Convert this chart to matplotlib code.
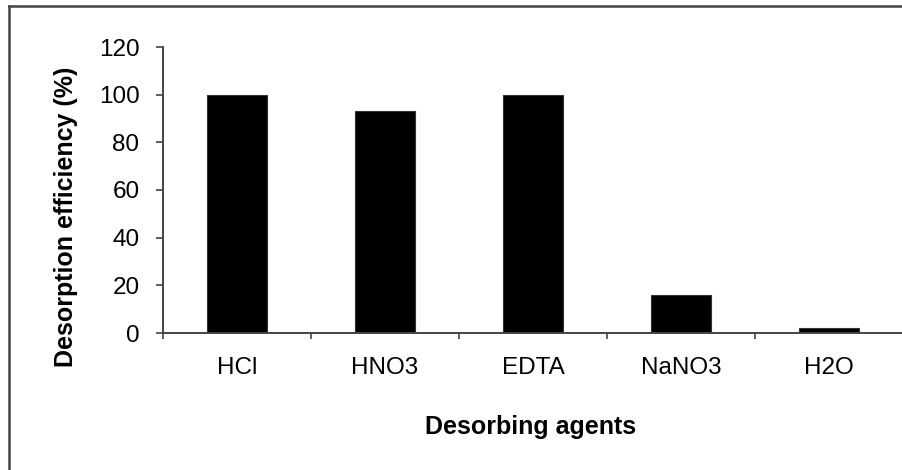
import numpy as np
from matplotlib import pyplot as plt
from matplotlib.lines import Line2D

plt.rcParams['font.family'] = ['Liberation Sans', 'DejaVu Sans']

# data
agents = ['HCl', 'HNO3', 'EDTA', 'NaNO3', 'H2O']
efficiency = [100, 93, 100, 16, 2]
y_ticks = [0, 20, 40, 60, 80, 100, 120]

W, H = 902, 470
fig = plt.figure(figsize=(W / 100, H / 100), dpi=100)
ax = fig.add_axes([163 / W, 1 - 333 / H, 740 / W, 286 / H])

x = np.arange(len(agents))
ax.bar(x, efficiency, width=0.41, color='black', edgecolor='#333333', linewidth=0.8)

ax.set_xlim(-0.5, len(agents) - 0.5)
ax.set_ylim(0, 120)
ax.set_yticks(y_ticks)

# category labels at centres, tick marks between categories
ax.set_xticks(x)
ax.set_xticklabels(agents)
ax.set_xticks(np.arange(len(agents)) - 0.5, minor=True)
ax.tick_params(axis='x', which='major', length=0, pad=17, labelsize=17.5, colors='black')
ax.tick_params(axis='x', which='minor', length=4, width=1.2, color='#444444', direction='out')
ax.tick_params(axis='y', length=5, width=1.2, color='#444444', pad=12, labelsize=17.5)

for s in ['top', 'right']:
    ax.spines[s].set_visible(False)
for s in ['left', 'bottom']:
    ax.spines[s].set_color('#444444')
    ax.spines[s].set_linewidth(1.4)
ax.spines['bottom'].set_clip_on(False)

ax.set_ylabel('Desorption efficiency (%)', fontsize=18, fontweight='bold')
ax.yaxis.set_label_coords(-0.115, 0.405)
ax.set_xlabel('Desorbing agents', fontsize=18, fontweight='bold')
ax.xaxis.set_label_coords(0.497, -0.285)

# outer frame (left and top edges only)
fx = 9 / W
fy = 1 - 6 / H
fig.add_artist(Line2D([fx, fx], [0, fy], transform=fig.transFigure, color='#444444', linewidth=1.8))
fig.add_artist(Line2D([fx, 1], [fy, fy], transform=fig.transFigure, color='#444444', linewidth=1.8))

fig.savefig('out.png', dpi=100)
